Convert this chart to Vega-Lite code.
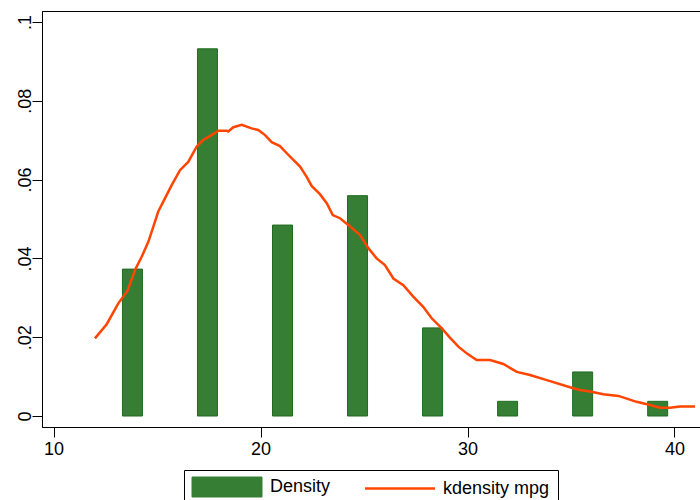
{
  "$schema": "https://vega.github.io/schema/vega-lite/v6.json",
  "width": 658,
  "height": 416,
  "autosize": "none",
  "padding": {"left": 42, "top": 11, "right": 0, "bottom": 73},
  "background": "white",
  "config": {
    "font": "Liberation Sans",
    "view": {"stroke": "black", "strokeWidth": 1, "strokeDash": [658, 416, 2000, 0]}
  },
  "datasets": {
    "bars": [
      {"series": "Density", "mpg": 13.8125, "density": 0.037279},
      {"series": "Density", "mpg": 17.4375, "density": 0.093197},
      {"series": "Density", "mpg": 21.0625, "density": 0.048462},
      {"series": "Density", "mpg": 24.6875, "density": 0.055918},
      {"series": "Density", "mpg": 28.3125, "density": 0.022367},
      {"series": "Density", "mpg": 31.9375, "density": 0.003728},
      {"series": "Density", "mpg": 35.5625, "density": 0.011184},
      {"series": "Density", "mpg": 39.1875, "density": 0.003728}
    ],
    "kde": [
      {"series": "kdensity mpg", "mpg": 12.00, "density": 0.0197},
      {"series": "kdensity mpg", "mpg": 12.57, "density": 0.0233},
      {"series": "kdensity mpg", "mpg": 13.13, "density": 0.0286},
      {"series": "kdensity mpg", "mpg": 13.58, "density": 0.0318},
      {"series": "kdensity mpg", "mpg": 13.94, "density": 0.0371},
      {"series": "kdensity mpg", "mpg": 14.26, "density": 0.0404},
      {"series": "kdensity mpg", "mpg": 14.58, "density": 0.0442},
      {"series": "kdensity mpg", "mpg": 14.82, "density": 0.0480},
      {"series": "kdensity mpg", "mpg": 15.06, "density": 0.0519},
      {"series": "kdensity mpg", "mpg": 15.39, "density": 0.0553},
      {"series": "kdensity mpg", "mpg": 15.71, "density": 0.0586},
      {"series": "kdensity mpg", "mpg": 16.11, "density": 0.0624},
      {"series": "kdensity mpg", "mpg": 16.51, "density": 0.0645},
      {"series": "kdensity mpg", "mpg": 16.92, "density": 0.0684},
      {"series": "kdensity mpg", "mpg": 17.24, "density": 0.0701},
      {"series": "kdensity mpg", "mpg": 17.64, "density": 0.0713},
      {"series": "kdensity mpg", "mpg": 17.96, "density": 0.0724},
      {"series": "kdensity mpg", "mpg": 18.37, "density": 0.0724},
      {"series": "kdensity mpg", "mpg": 18.44, "density": 0.0722},
      {"series": "kdensity mpg", "mpg": 18.69, "density": 0.0733},
      {"series": "kdensity mpg", "mpg": 19.09, "density": 0.0739},
      {"series": "kdensity mpg", "mpg": 19.57, "density": 0.0730},
      {"series": "kdensity mpg", "mpg": 19.89, "density": 0.0726},
      {"series": "kdensity mpg", "mpg": 20.22, "density": 0.0713},
      {"series": "kdensity mpg", "mpg": 20.54, "density": 0.0695},
      {"series": "kdensity mpg", "mpg": 20.94, "density": 0.0685},
      {"series": "kdensity mpg", "mpg": 21.43, "density": 0.0658},
      {"series": "kdensity mpg", "mpg": 21.91, "density": 0.0633},
      {"series": "kdensity mpg", "mpg": 22.23, "density": 0.0607},
      {"series": "kdensity mpg", "mpg": 22.47, "density": 0.0584},
      {"series": "kdensity mpg", "mpg": 22.87, "density": 0.0563},
      {"series": "kdensity mpg", "mpg": 23.20, "density": 0.0540},
      {"series": "kdensity mpg", "mpg": 23.49, "density": 0.0510},
      {"series": "kdensity mpg", "mpg": 23.84, "density": 0.0502},
      {"series": "kdensity mpg", "mpg": 24.24, "density": 0.0485},
      {"series": "kdensity mpg", "mpg": 24.81, "density": 0.0459},
      {"series": "kdensity mpg", "mpg": 25.21, "density": 0.0426},
      {"series": "kdensity mpg", "mpg": 25.61, "density": 0.0400},
      {"series": "kdensity mpg", "mpg": 26.01, "density": 0.0383},
      {"series": "kdensity mpg", "mpg": 26.42, "density": 0.0349},
      {"series": "kdensity mpg", "mpg": 26.90, "density": 0.0332},
      {"series": "kdensity mpg", "mpg": 27.38, "density": 0.0303},
      {"series": "kdensity mpg", "mpg": 27.86, "density": 0.0277},
      {"series": "kdensity mpg", "mpg": 28.27, "density": 0.0248},
      {"series": "kdensity mpg", "mpg": 28.75, "density": 0.0223},
      {"series": "kdensity mpg", "mpg": 29.15, "density": 0.0199},
      {"series": "kdensity mpg", "mpg": 29.56, "density": 0.0176},
      {"series": "kdensity mpg", "mpg": 29.96, "density": 0.0159},
      {"series": "kdensity mpg", "mpg": 30.44, "density": 0.0142},
      {"series": "kdensity mpg", "mpg": 31.09, "density": 0.0142},
      {"series": "kdensity mpg", "mpg": 31.73, "density": 0.0132},
      {"series": "kdensity mpg", "mpg": 32.38, "density": 0.0112},
      {"series": "kdensity mpg", "mpg": 33.02, "density": 0.0104},
      {"series": "kdensity mpg", "mpg": 33.83, "density": 0.0091},
      {"series": "kdensity mpg", "mpg": 34.95, "density": 0.0073},
      {"series": "kdensity mpg", "mpg": 35.43, "density": 0.0066},
      {"series": "kdensity mpg", "mpg": 35.92, "density": 0.0062},
      {"series": "kdensity mpg", "mpg": 36.56, "density": 0.0055},
      {"series": "kdensity mpg", "mpg": 37.29, "density": 0.0051},
      {"series": "kdensity mpg", "mpg": 38.17, "density": 0.0036},
      {"series": "kdensity mpg", "mpg": 38.82, "density": 0.0028},
      {"series": "kdensity mpg", "mpg": 39.30, "density": 0.0021},
      {"series": "kdensity mpg", "mpg": 39.78, "density": 0.0021},
      {"series": "kdensity mpg", "mpg": 40.27, "density": 0.0024},
      {"series": "kdensity mpg", "mpg": 40.99, "density": 0.0024}
    ]
  },
  "encoding": {
    "x": {
      "field": "mpg",
      "type": "quantitative",
      "scale": {"domain": [9.444, 41.232], "nice": false, "zero": false, "padding": 0},
      "axis": {
        "title": null,
        "values": [10, 20, 30, 40],
        "format": "d",
        "grid": false,
        "tickSize": 10,
        "tickColor": "black",
        "domainColor": "black",
        "labelColor": "black",
        "labelFont": "Liberation Sans",
        "labelFontSize": 18,
        "labelPadding": 3,
        "labelFlush": false
      }
    },
    "y": {
      "field": "density",
      "type": "quantitative",
      "scale": {"domain": [-0.00279, 0.10279], "nice": false, "padding": 0},
      "axis": {
        "title": null,
        "values": [0, 0.02, 0.04, 0.06, 0.08, 0.1],
        "labelExpr": "datum.value == 0 ? '0' : substring(format(datum.value, '.2~f'), 1)",
        "grid": false,
        "tickSize": 10,
        "tickColor": "black",
        "domainColor": "black",
        "labelColor": "black",
        "labelFont": "Liberation Sans",
        "labelFontSize": 18,
        "labelAngle": -90,
        "labelAlign": "center",
        "labelBaseline": "alphabetic",
        "labelPadding": 2,
        "labelFlush": false
      }
    },
    "color": {
      "field": "series",
      "type": "nominal",
      "scale": {"domain": ["Density", "kdensity mpg"], "range": ["#367e34", "#ff4500"]},
      "legend": {
        "title": null,
        "orient": "none",
        "legendX": 142,
        "legendY": 459,
        "direction": "horizontal",
        "strokeColor": "black",
        "padding": 8,
        "symbolSize": 400,
        "labelOffset": 60,
        "columnPadding": 29,
        "labelFont": "Liberation Sans",
        "labelFontSize": 18,
        "labelColor": "black",
        "encode": {
          "symbols": {
            "update": {
              "shape": {"signal": "datum.value === 'Density' ? 'M-3.5,-1H3.5V1H-3.5Z' : 'M-3.5,0H3.5'"},
              "fill": {"signal": "datum.value === 'Density' ? '#367e34' : 'transparent'"},
              "stroke": {"signal": "datum.value === 'Density' ? '#1f6b1f' : '#ff4500'"},
              "strokeWidth": {"signal": "datum.value === 'Density' ? 1 : 2.5"},
              "opacity": {"value": 1},
              "x": {"value": 35}
            }
          }
        }
      }
    }
  },
  "layer": [
    {
      "data": {"name": "bars"},
      "mark": {"type": "bar", "size": 20, "stroke": "#1f6b1f", "strokeWidth": 1}
    },
    {
      "data": {"name": "kde"},
      "mark": {"type": "line", "strokeWidth": 2.5}
    }
  ]
}
